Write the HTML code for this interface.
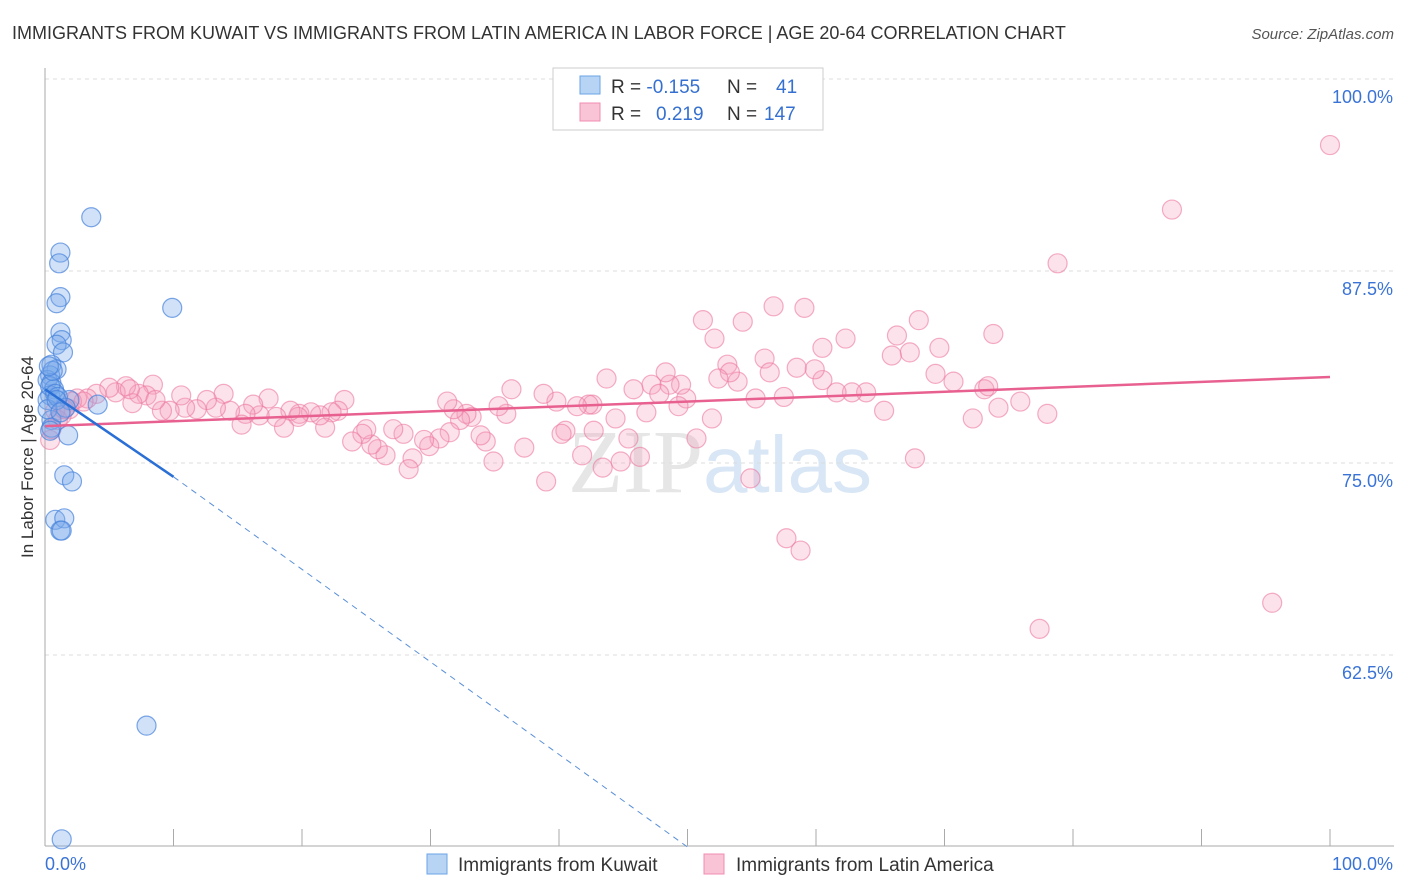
<!DOCTYPE html>
<html><head><meta charset="utf-8"><style>
body{margin:0;background:#fff;font-family:"Liberation Sans",sans-serif;}
svg{display:block}
</style></head><body>
<svg id="chart" width="1406" height="892" xmlns="http://www.w3.org/2000/svg" font-family="Liberation Sans, sans-serif">
<text x="12" y="39" font-size="18" fill="#333">IMMIGRANTS FROM KUWAIT VS IMMIGRANTS FROM LATIN AMERICA IN LABOR FORCE | AGE 20-64 CORRELATION CHART</text>
<text x="1394" y="39" font-size="15" fill="#555" text-anchor="end" font-style="italic">Source: ZipAtlas.com</text>
<text x="720" y="492" font-size="90" fill="#e6e6e6" text-anchor="middle" font-family="Liberation Serif, serif">ZIP<tspan fill="#d8e6f5" font-family="Liberation Sans, sans-serif" font-size="80">atlas</tspan></text>
<g id="grid"></g>
<g id="axes"></g>
<g id="pts"></g>
<g id="lines"></g>
<text transform="translate(33,457) rotate(-90)" font-size="17" fill="#333" text-anchor="middle">In Labor Force | Age 20-64</text>
<g>
<rect x="553" y="68" width="270" height="62" fill="#fff" stroke="#ccc"/>
<rect x="580" y="76" width="20" height="18" fill="#b8d4f5" stroke="#6aa3e6"/>
<rect x="580" y="103" width="20" height="18" fill="#f9c5d6" stroke="#f08cb0"/>
<text x="611" y="93" font-size="19" fill="#333">R = <tspan fill="#3570d0">-0.155</tspan><tspan x="727">N = </tspan><tspan x="776" fill="#3570d0">41</tspan></text>
<text x="611" y="120" font-size="19" fill="#333">R = <tspan x="656" fill="#3570d0">0.219</tspan><tspan x="727">N = </tspan><tspan x="764" fill="#3570d0">147</tspan></text>
</g>
<g>
<rect x="427" y="854" width="20" height="20" fill="#b8d4f5" stroke="#6aa3e6"/>
<text x="458" y="871" font-size="19" fill="#333">Immigrants from Kuwait</text>
<rect x="704" y="854" width="20" height="20" fill="#f9c5d6" stroke="#f08cb0"/>
<text x="736" y="871" font-size="19" fill="#333">Immigrants from Latin America</text>
</g>
</svg>
<script>
const yTicks=[100,87.5,75,62.5];
const yTickLabels=["100.0%","87.5%","75.0%","62.5%"];
const xEndLabels=["0.0%","100.0%"];
const kuwaitX=[3.6,1.2,1.1,1.2,0.9,9.9,1.2,1.3,0.9,1.4,0.5,0.9,0.4,0.2,0.5,0.7,0.4,0.2,4.1,1.9,0.5,0.5,1.8,1.5,2.1,0.8,1.5,1.2,1.3,7.9,1.3,0.4,0.8,0.2,1.0,1.6,0.6,0.3,0.9,0.4,1.2];
const kuwaitY=[91.0,88.7,88.0,85.8,85.4,85.1,83.5,83.0,82.7,82.2,81.4,81.1,80.7,80.4,80.2,79.8,79.4,79.1,78.8,79.1,77.8,77.3,76.8,74.2,73.8,71.3,71.4,70.6,70.6,57.9,50.5,80.0,79.5,78.5,79.3,78.6,81.0,81.3,79.1,77.1,78.3];
const latinX=[100,87.7,78.8,95.5,77.4,57.7,58.8,54.9,73.8,78.0,74.2,75.9,72.2,73.1,73.4,70.7,69.3,69.6,67.3,66.3,68.0,65.9,65.3,67.7,63.9,62.8,61.6,62.3,60.5,60.5,59.9,58.5,59.1,56.7,54.3,51.2,52.1,56.0,56.4,57.5,55.3,53.9,53.1,53.3,52.4,51.9,50.7,49.9,49.5,48.6,48.3,47.2,45.8,47.8,49.3,46.8,46.3,45.4,44.8,43.7,43.4,44.4,42.6,42.3,41.4,40.5,40.2,41.8,42.7,39.8,39.0,38.8,37.3,36.3,35.9,35.3,34.9,34.3,33.9,33.2,32.8,32.3,31.8,31.3,31.5,30.7,29.9,29.5,28.6,28.3,27.9,27.1,26.5,25.9,25.4,25.0,24.7,23.9,23.3,22.8,22.3,21.8,21.4,20.7,19.8,19.7,19.1,18.6,18.0,17.4,16.7,16.2,15.6,15.3,14.4,13.9,13.3,12.6,11.8,10.9,10.6,9.7,9.1,8.4,7.9,7.3,6.8,6.3,5.5,5.0,4.0,3.3,2.5,1.9,1.3,0.8,0.4,6.6,8.6,2.1,0.5,1.0,3.0,1.5];
const latinY=[95.7,91.5,88.0,65.9,64.2,70.1,69.3,74.0,83.4,78.2,78.6,79.0,77.9,79.8,80.0,80.3,80.8,82.5,82.2,83.3,84.3,82.0,78.4,75.3,79.6,79.6,79.6,83.1,82.5,80.4,81.1,81.2,85.1,85.2,84.2,84.3,83.1,81.8,80.9,79.3,79.2,80.3,81.4,80.9,80.5,77.9,76.6,79.2,80.1,80.1,80.9,80.1,79.8,79.5,78.7,78.3,75.4,76.6,75.1,80.5,74.7,77.9,78.8,78.8,78.7,77.1,76.9,75.5,77.1,79.0,73.8,79.5,76.0,79.8,78.2,78.7,75.1,76.4,76.8,78.0,78.2,77.8,78.5,79.0,77.0,76.6,76.1,76.5,75.3,74.6,76.9,77.2,75.5,75.9,76.2,77.2,76.9,76.4,79.1,78.4,78.3,77.3,78.1,78.3,78.2,78.0,78.4,77.3,78.0,79.2,78.1,78.8,78.2,77.5,78.4,79.5,78.6,79.1,78.5,78.6,79.4,78.4,78.4,80.1,79.4,79.5,78.9,80.0,79.6,79.9,79.5,79.2,79.2,78.5,78.1,78.4,76.5,79.8,79.1,79.0,77.2,77.8,79.0,78.5];
const kuwaitTrend=[[0,79.8],[10,74.1],[50,50.0]];
const latinTrend=[[0,77.4],[100,80.6]];

const NS="http://www.w3.org/2000/svg";
const X0=45,X1=1330,YTOP=79,PXPER=192/12.5;
const sx=v=>X0+(X1-X0)*v/100;
const sy=v=>YTOP+(100-v)*PXPER;
function mk(tag,attrs,parent){const e=document.createElementNS(NS,tag);for(const k in attrs)e.setAttribute(k,attrs[k]);parent.appendChild(e);return e;}
const grid=document.getElementById('grid'),axes=document.getElementById('axes'),pts=document.getElementById('pts'),lines=document.getElementById('lines');
yTicks.forEach((t,i)=>{
  const l=mk('line',{x1:X0,x2:1394,y1:sy(t),y2:sy(t),stroke:'#ddd','stroke-dasharray':'4,4'},grid);
  
  
  const tx=mk('text',{x:1393,y:sy(t)+24,'font-size':18,fill:'#3a73d6','text-anchor':'end'},axes);
  tx.textContent=yTickLabels[i];
  
  
});
const ax=mk('line',{x1:X0,x2:X0,y1:68,y2:846,stroke:'#aaa'},axes);


const bx=mk('line',{x1:X0,x2:1394,y1:846,y2:846,stroke:'#aaa'},axes);


for(let i=0;i<=10;i++){
  const tk=mk('line',{x1:sx(i*10),x2:sx(i*10),y1:829,y2:846,stroke:'#aaa'},axes);
  
  
}
const xl0=mk('text',{x:45,y:870,'font-size':18,fill:'#3a73d6'},axes);xl0.textContent=xEndLabels[0];


const xl1=mk('text',{x:1393,y:870,'font-size':18,fill:'#3a73d6','text-anchor':'end'},axes);xl1.textContent=xEndLabels[1];


latinX.forEach((x,i)=>{
  const c=mk('circle',{cx:sx(x),cy:sy(latinY[i]),r:9.5,fill:'rgba(245,160,190,0.3)',stroke:'rgba(236,120,160,0.6)','stroke-width':1.2},pts);
  
  
});
kuwaitX.forEach((x,i)=>{
  const c=mk('circle',{cx:sx(x),cy:sy(kuwaitY[i]),r:9.5,fill:'rgba(120,170,235,0.35)',stroke:'rgba(70,130,220,0.7)','stroke-width':1.2},pts);
  
  
});
const lt=mk('line',{x1:sx(latinTrend[0][0]),y1:sy(latinTrend[0][1]),x2:sx(latinTrend[1][0]),y2:sy(latinTrend[1][1]),stroke:'#e8608f','stroke-width':2.5},lines);


const kt=mk('line',{x1:sx(kuwaitTrend[0][0]),y1:sy(kuwaitTrend[0][1]),x2:sx(kuwaitTrend[1][0]),y2:sy(kuwaitTrend[1][1]),stroke:'#2a6fd6','stroke-width':2.5},lines);


const kd=mk('line',{x1:sx(kuwaitTrend[1][0]),y1:sy(kuwaitTrend[1][1]),x2:sx(kuwaitTrend[2][0]),y2:sy(kuwaitTrend[2][1]),stroke:'#5a8fd8','stroke-width':1,'stroke-dasharray':'6,5'},lines);


</script>
</body></html>
